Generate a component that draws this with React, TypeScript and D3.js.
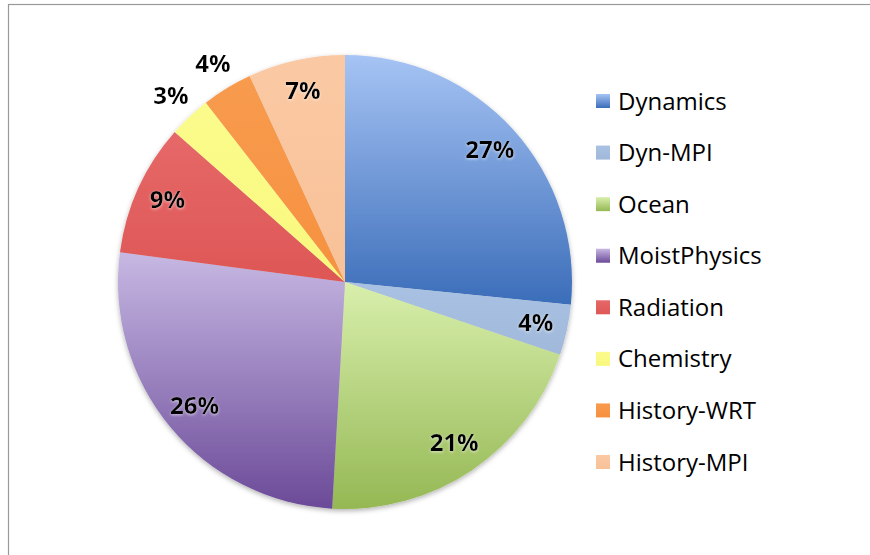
import * as d3 from "d3";

const W = 870;
const H = 555;
const CX = 345;
const CY = 282;
const R = 227;

// percentages
const categories = [
  "Dynamics",
  "Dyn-MPI",
  "Ocean",
  "MoistPhysics",
  "Radiation",
  "Chemistry",
  "History-WRT",
  "History-MPI",
];
const values = [26.6, 3.6, 20.7, 26.2, 9.4, 3.0, 3.6, 6.9];
const labels = ["27%", "4%", "21%", "26%", "9%", "3%", "4%", "7%"];
const outside = [false, false, false, false, false, true, true, false];

// gradient stops (top, bottom) per slice
const topColors = ["#a6c4f4", "#a9c1e2", "#d8efac", "#c7b8e3", "#e66868", "#fbfb8c", "#f89b4e", "#fac9a3"];
const bottomColors = ["#3b6db9", "#a0b8da", "#95b854", "#6b4a98", "#de5756", "#f8f87e", "#f6913f", "#f8c198"];

export default function App() {
  const pie = d3
    .pie<number>()
    .sort(null)
    .value((d) => d);
  const arcs = pie(values);
  const arc = d3.arc<d3.PieArcDatum<number>>().innerRadius(0).outerRadius(R);
  const labelIn = d3.arc<d3.PieArcDatum<number>>().innerRadius(R * 0.86).outerRadius(R * 0.86);
  const labelOut = d3.arc<d3.PieArcDatum<number>>().innerRadius(R * 1.12).outerRadius(R * 1.12);

  const legendY = d3
    .scalePoint<string>()
    .domain(categories)
    .range([101, 462]);

  return (
    <svg
      width={W}
      height={H}
      style={{ position: "absolute", left: 0, top: 0, background: "#fff" }}
      fontFamily="'Open Sans', sans-serif"
    >
      <defs>
        {categories.map((c, i) => (
          <linearGradient key={c} id={`g${i}`} x1="0" y1="0" x2="0" y2="1">
            <stop offset="0%" stopColor={topColors[i]} />
            <stop offset="100%" stopColor={bottomColors[i]} />
          </linearGradient>
        ))}
        <filter id="pieShadow" x="-10%" y="-10%" width="120%" height="125%">
          <feDropShadow dx="0" dy="2" stdDeviation="2.5" floodColor="#000" floodOpacity="0.3" />
        </filter>
        <filter id="txtGlow" x="-20%" y="-20%" width="140%" height="150%">
          <feDropShadow dx="0" dy="1" stdDeviation="1.5" floodColor="#fff" floodOpacity="0.6" />
        </filter>
      </defs>

      {/* chart frame */}
      <rect x={8.5} y={4.5} width={W} height={H} fill="none" stroke="#999" strokeWidth={1.2} />

      <g transform={`translate(${CX},${CY})`}>
        <g filter="url(#pieShadow)">
          {arcs.map((a, i) => (
            <path key={categories[i]} d={arc(a) ?? ""} fill={`url(#g${i})`} />
          ))}
        </g>
        {arcs.map((a, i) => {
          const [x, y] = (outside[i] ? labelOut : labelIn).centroid(a);
          return (
            <text
              key={`l-${i}`}
              x={x}
              y={y}
              dy="0.3em"
              textAnchor="middle"
              fontSize={24}
              fontWeight="bold"
              fill="#000"
              filter="url(#txtGlow)"
            >
              {labels[i]}
            </text>
          );
        })}
      </g>

      {/* legend */}
      {categories.map((c, i) => (
        <g key={`lg-${c}`} transform={`translate(596,${legendY(c)})`}>
          <rect x={0} y={-7} width={14} height={14} fill={`url(#g${i})`} />
          <text x={22} y={0} dy="0.36em" fontSize={24} fill="#000">
            {c}
          </text>
        </g>
      ))}
    </svg>
  );
}
